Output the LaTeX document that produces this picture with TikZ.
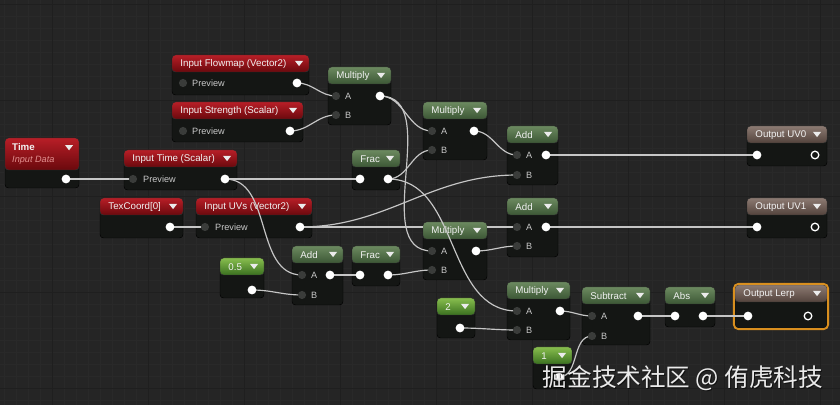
\documentclass[tikz,border=0pt]{standalone}
\usepackage{fontspec}
\setmainfont{Liberation Sans}
\newfontfamily\cjk{Noto Sans CJK SC}
\definecolor{canvas}{HTML}{252525}
\definecolor{gridc}{HTML}{292929}
\definecolor{gridmaj}{HTML}{1F1F1F}
\definecolor{bodyc}{HTML}{141614}
\definecolor{wirec}{HTML}{C6C6C6}
\definecolor{pinoff}{HTML}{3A3C3A}
\definecolor{labc}{HTML}{C8C8C8}
\definecolor{redtop}{HTML}{B81E27}
\definecolor{redbot}{HTML}{6A090D}
\definecolor{grntop}{HTML}{6C8A60}
\definecolor{grnbot}{HTML}{3C5735}
\definecolor{cnstop}{HTML}{88BE4E}
\definecolor{cnsbot}{HTML}{3A7020}
\definecolor{outtop}{HTML}{8C7A72}
\definecolor{outbot}{HTML}{53433C}
\definecolor{lerpc}{HTML}{D98F1F}
\definecolor{datac}{HTML}{E39090}
\pgfdeclarelayer{grid}
\pgfdeclarelayer{wires}
\pgfdeclarelayer{pins}
\pgfsetlayers{grid,main,wires,pins}

\newcommand{\matnode}[7]{%
  \node[body, minimum width=#4*0.03cm, minimum height=#5*0.03cm] (#1) at (#2,#3) {};
  \node[#6, minimum width=#4*0.03cm, minimum height=17*0.03cm] (#1-h) at (#2,#3) {};
  \node[title] at ([xshift=7pt,yshift=-0.5pt]#1-h.west) {#7};
  \fill[white!92!black] ([xshift=-12pt,yshift=-5pt]#1-h.north east) -- ++(7pt,0) -- ++(-3.5pt,-4.5pt) -- cycle;
}

\begin{document}
\begin{tikzpicture}[x=0.03cm, y=-0.03cm,
    body/.style={anchor=north west, fill=bodyc, draw=black, rounded corners=3pt, inner sep=0, outer sep=0},
    header/.style={anchor=north west, draw=black!80, rounded corners=3pt, inner sep=0, outer sep=0},
    hred/.style={header, top color=redtop, bottom color=redbot},
    hgreen/.style={header, top color=grntop, bottom color=grnbot},
    hconst/.style={header, top color=cnstop, bottom color=cnsbot},
    hout/.style={header, top color=outtop, bottom color=outbot},
    title/.style={anchor=west, text=white!95!black, font=\fontsize{8.3}{9}\selectfont, inner sep=0},
    pinlab/.style={anchor=west, text=labc, font=\fontsize{7.8}{9}\selectfont, inner sep=0},
    pinout/.style={circle, fill=white, inner sep=0, minimum size=7.5pt},
    pinin/.style={circle, fill=pinoff, inner sep=0, minimum size=7pt},
    pinres/.style={circle, draw=white, line width=1.1pt, inner sep=0, minimum size=6.5pt},
    wire/.style={draw=wirec, line width=1pt},
    spline/.style={out=0, in=180},
    gridline/.style={draw=gridc, line width=0.3pt},
    gridmajor/.style={draw=gridmaj, line width=0.5pt},
    wmark/.style={font=\cjk\fontsize{21}{23}\selectfont, inner sep=0}]
  \useasboundingbox (0,0) rectangle (840,405);
  \begin{pgfonlayer}{grid}
    \fill[canvas] (0,0) rectangle (840,405);
    \foreach \gx in {4,16,...,840} \draw[gridline] (\gx,0) -- (\gx,405);
    \foreach \gy in {4,16,...,405} \draw[gridline] (0,\gy) -- (840,\gy);
    \foreach \gx in {52,148,...,840} \draw[gridmajor] (\gx,0) -- (\gx,405);
    \foreach \gy in {4,100,...,405} \draw[gridmajor] (0,\gy) -- (840,\gy);
  \end{pgfonlayer}

  \node[body, minimum width=74*0.03cm, minimum height=50*0.03cm] (time) at (5,138) {};
  \node[hred, minimum width=74*0.03cm, minimum height=32*0.03cm] (time-h) at (5,138) {};
  \node[title, font=\bfseries\fontsize{8.3}{9}\selectfont] at (12,147) {Time};
  \node[title, text=datac, font=\itshape\fontsize{7.8}{9}\selectfont] at (12,160) {Input Data};
  \fill[white!92!black] ([xshift=-12pt,yshift=-6pt]time-h.north east) -- ++(7pt,0) -- ++(-3.5pt,-4.5pt) -- cycle;

  \matnode{flowmap}{172}{55}{137}{40}{hred}{Input Flowmap (Vector2)}
  \matnode{strength}{172}{102}{131}{40}{hred}{Input Strength (Scalar)}
  \matnode{intime}{124}{150}{113}{40}{hred}{Input Time (Scalar)}
  \matnode{texcoord}{100}{198}{83}{40}{hred}{TexCoord[0]}
  \matnode{inuvs}{196}{198}{116}{40}{hred}{Input UVs (Vector2)}
  \matnode{mul1}{328}{67}{63}{58}{hgreen}{Multiply}
  \matnode{mul2}{423}{102}{64}{58}{hgreen}{Multiply}
  \matnode{frac1}{352}{150}{48}{40}{hgreen}{Frac}
  \matnode{add1}{507}{126}{51}{59}{hgreen}{Add}
  \matnode{add2}{507}{198}{51}{59}{hgreen}{Add}
  \matnode{mul3}{423}{222}{64}{58}{hgreen}{Multiply}
  \matnode{add3}{292}{246}{51}{59}{hgreen}{Add}
  \matnode{frac2}{352}{246}{48}{40}{hgreen}{Frac}
  \matnode{cfive}{220}{258}{44}{40}{hconst}{0.5}
  \matnode{ctwo}{437}{298}{38}{40}{hconst}{2}
  \matnode{mul4}{507}{282}{63}{58}{hgreen}{Multiply}
  \matnode{sub}{582}{287}{68}{58}{hgreen}{Subtract}
  \matnode{abs}{665}{287}{50}{40}{hgreen}{Abs}
  \matnode{cone}{533}{347}{39}{42}{hconst}{1}
  \matnode{uvzero}{747}{126}{80}{40}{hout}{Output UV0}
  \matnode{uvone}{747}{198}{80}{40}{hout}{Output UV1}
  \matnode{lerp}{735}{285}{92}{43}{hout}{Output Lerp}
  \draw[lerpc, line width=1.6pt, rounded corners=4pt] ([shift={(-1pt,1pt)}]lerp.north west) rectangle ([shift={(1pt,-1pt)}]lerp.south east);

  \begin{pgfonlayer}{pins}
    \node[pinout] (time-o) at (66,179) {};
    \node[pinin] (flowmap-i) at (183,83) {};
    \node[pinlab] at (192,83) {Preview};
    \node[pinout] (flowmap-o) at (297,83) {};
    \node[pinin] (strength-i) at (183,131) {};
    \node[pinlab] at (192,131) {Preview};
    \node[pinout] (strength-o) at (290,131) {};
    \node[pinin] (intime-i) at (133,179) {};
    \node[pinlab] at (143,179) {Preview};
    \node[pinout] (intime-o) at (225,179) {};
    \node[pinout] (texcoord-o) at (170,227) {};
    \node[pinin] (inuvs-i) at (205,227) {};
    \node[pinlab] at (215,227) {Preview};
    \node[pinout] (inuvs-o) at (300,227) {};
    \node[pinin] (mul1-a) at (336,96) {};
    \node[pinlab] at (345,96) {A};
    \node[pinin] (mul1-b) at (336,115) {};
    \node[pinlab] at (345,115) {B};
    \node[pinout] (mul1-o) at (380,96) {};
    \node[pinin] (mul2-a) at (432,131) {};
    \node[pinlab] at (441,131) {A};
    \node[pinin] (mul2-b) at (432,150) {};
    \node[pinlab] at (441,150) {B};
    \node[pinout] (mul2-o) at (474,131) {};
    \node[pinout] (frac1-i) at (360,179) {};
    \node[pinout] (frac1-o) at (388,179) {};
    \node[pinin] (add1-a) at (517,155) {};
    \node[pinlab] at (526,155) {A};
    \node[pinin] (add1-b) at (517,175) {};
    \node[pinlab] at (526,175) {B};
    \node[pinout] (add1-o) at (546,155) {};
    \node[pinin] (add2-a) at (517,227) {};
    \node[pinlab] at (526,227) {A};
    \node[pinin] (add2-b) at (517,246) {};
    \node[pinlab] at (526,246) {B};
    \node[pinout] (add2-o) at (546,227) {};
    \node[pinin] (mul3-a) at (432,251) {};
    \node[pinlab] at (441,251) {A};
    \node[pinin] (mul3-b) at (432,270) {};
    \node[pinlab] at (441,270) {B};
    \node[pinout] (mul3-o) at (476,251) {};
    \node[pinin] (add3-a) at (302,275) {};
    \node[pinlab] at (311,275) {A};
    \node[pinin] (add3-b) at (302,295) {};
    \node[pinlab] at (311,295) {B};
    \node[pinout] (add3-o) at (330,275) {};
    \node[pinout] (frac2-i) at (360,275) {};
    \node[pinout] (frac2-o) at (388,275) {};
    \node[pinout] (cfive-o) at (252,290) {};
    \node[pinout] (ctwo-o) at (460,328) {};
    \node[pinin] (mul4-a) at (517,311) {};
    \node[pinlab] at (526,311) {A};
    \node[pinin] (mul4-b) at (517,330) {};
    \node[pinlab] at (526,330) {B};
    \node[pinout] (mul4-o) at (560,311) {};
    \node[pinin] (sub-a) at (592,316) {};
    \node[pinlab] at (601,316) {A};
    \node[pinin] (sub-b) at (592,336) {};
    \node[pinlab] at (601,336) {B};
    \node[pinout] (sub-o) at (638,316) {};
    \node[pinout] (abs-i) at (675,316) {};
    \node[pinout] (abs-o) at (703,316) {};
    \node[pinout] (cone-o) at (559,377) {};
    \node[pinout] (uvzero-i) at (757,155) {};
    \node[pinres] (uvzero-r) at (815,155) {};
    \node[pinout] (uvone-i) at (757,227) {};
    \node[pinres] (uvone-r) at (815,227) {};
    \node[pinout] (lerp-i) at (748,316) {};
    \node[pinres] (lerp-r) at (808,316) {};
    \node[wmark, text=black, opacity=0.55] at (684,379) {掘金技术社区 @ 侑虎科技};
    \node[wmark, text=white!92!black] (wm) at (683,378) {掘金技术社区 @ 侑虎科技};
  \end{pgfonlayer}

  \begin{pgfonlayer}{wires}
    \draw[wire] (time-o.center) to[spline] (intime-i.center);
    \draw[wire] (intime-o.center) to[spline] (frac1-i.center);
    \draw[wire] (intime-o.center) to[spline] (add3-a.center);
    \draw[wire] (flowmap-o.center) to[spline] (mul1-a.center);
    \draw[wire] (strength-o.center) to[spline] (mul1-b.center);
    \draw[wire] (mul1-o.center) to[spline] (mul2-a.center);
    \draw[wire] (mul1-o.center) to[spline] (mul3-a.center);
    \draw[wire] (frac1-o.center) to[spline] (mul2-b.center);
    \draw[wire] (frac1-o.center) to[spline] (mul4-a.center);
    \draw[wire] (mul2-o.center) to[spline] (add1-a.center);
    \draw[wire] (texcoord-o.center) to[spline] (inuvs-i.center);
    \draw[wire] (inuvs-o.center) to[spline] (add1-b.center);
    \draw[wire] (inuvs-o.center) -- (inuvs-o.center -| mul3-h.west);
    \draw[wire] (add2-a.center -| mul3-h.east) -- (add2-a.center);
    \draw[wire] (mul3-o.center) to[spline] (add2-b.center);
    \draw[wire] (add1-o.center) to[spline] (uvzero-i.center);
    \draw[wire] (add2-o.center) to[spline] (uvone-i.center);
    \draw[wire] (cfive-o.center) to[spline] (add3-b.center);
    \draw[wire] (add3-o.center) to[spline] (frac2-i.center);
    \draw[wire] (frac2-o.center) to[spline] (mul3-b.center);
    \draw[wire] (ctwo-o.center) to[spline] (mul4-b.center);
    \draw[wire] (mul4-o.center) to[spline] (sub-a.center);
    \draw[wire] (cone-o.center) to[spline] (sub-b.center);
    \draw[wire] (sub-o.center) to[spline] (abs-i.center);
    \draw[wire] (abs-o.center) to[spline] (lerp-i.center);
  \end{pgfonlayer}
\end{tikzpicture}
\end{document}
